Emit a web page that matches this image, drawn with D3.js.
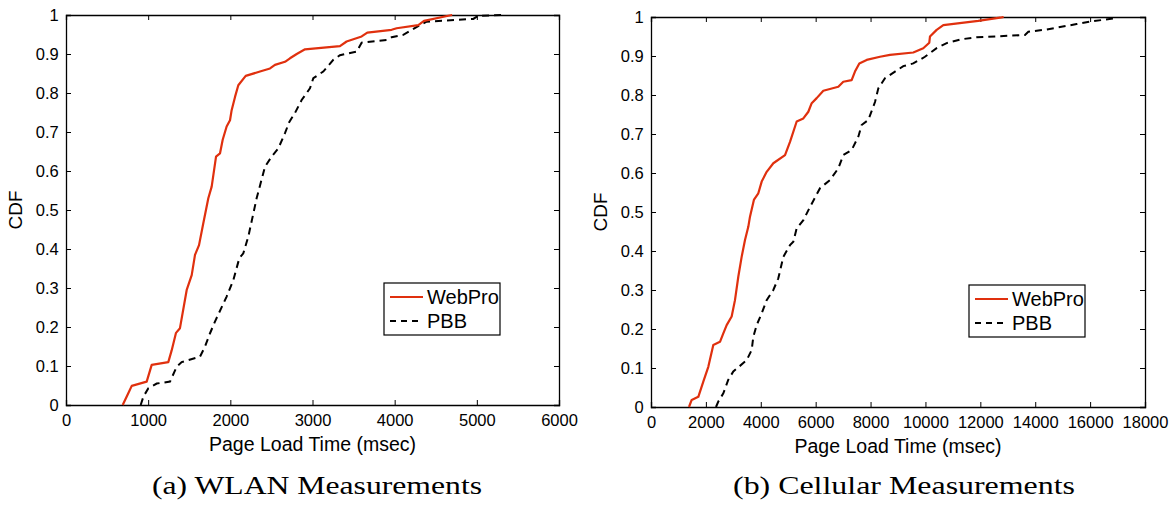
<!DOCTYPE html>
<html>
<head>
<meta charset="utf-8">
<script src="https://cdn.jsdelivr.net/npm/d3@7"></script>
<style>
  body { margin: 0; background: #fff; }
  svg { display: block; }
</style>
</head>
<body>
<svg id="chart" width="1172" height="505"></svg>
<script>
// values (msec, cdf)
const wlanWebProX = [690, 758, 800, 982, 1043, 1245, 1286, 1339, 1387, 1469, 1530, 1570, 1619, 1671, 1732, 1773, 1826, 1874, 1907, 1955, 1996, 2016, 2057, 2097, 2187, 2361, 2483, 2543, 2665, 2726, 2808, 2909, 3334, 3415, 3598, 3667, 3963, 4024, 4288, 4357, 4653, 4700]
const wlanWebProY = [0, 0.03, 0.049, 0.06, 0.103, 0.11, 0.14, 0.185, 0.197, 0.295, 0.333, 0.385, 0.41, 0.466, 0.53, 0.56, 0.637, 0.645, 0.68, 0.714, 0.73, 0.756, 0.79, 0.82, 0.844, 0.855, 0.863, 0.872, 0.88, 0.889, 0.9, 0.912, 0.92, 0.932, 0.945, 0.955, 0.962, 0.966, 0.974, 0.985, 0.998, 1]

const wlanPbbX = [909, 941, 1002, 1104, 1266, 1347, 1408, 1631, 1692, 1753, 1813, 1955, 2036, 2109, 2158, 2219, 2320, 2422, 2503, 2584, 2665, 2718, 2787, 2868, 2969, 3010, 3131, 3253, 3334, 3537, 3598, 3903, 3963, 4105, 4308, 4389, 4957, 5018, 5322]
const wlanPbbY = [0, 0.021, 0.043, 0.055, 0.06, 0.098, 0.11, 0.124, 0.15, 0.184, 0.214, 0.278, 0.32, 0.376, 0.389, 0.432, 0.53, 0.611, 0.637, 0.658, 0.697, 0.726, 0.749, 0.782, 0.812, 0.838, 0.855, 0.885, 0.897, 0.906, 0.929, 0.936, 0.943, 0.949, 0.974, 0.983, 0.99, 0.998, 1]

const cellWebProX = [1385, 1482, 1724, 1906, 2088, 2270, 2514, 2635, 2757, 2939, 3060, 3181, 3303, 3425, 3545, 3607, 3753, 3910, 4033, 4215, 4457, 4883, 5065, 5308, 5551, 5733, 5855, 6037, 6279, 6825, 7007, 7311, 7432, 7590, 7858, 8344, 8708, 9557, 9921, 10140, 10165, 10408, 10651, 11925, 12777, 12850]
const cellWebProY = [0, 0.018, 0.026, 0.065, 0.103, 0.159, 0.167, 0.189, 0.21, 0.232, 0.274, 0.334, 0.385, 0.428, 0.462, 0.488, 0.532, 0.548, 0.578, 0.603, 0.625, 0.646, 0.68, 0.732, 0.74, 0.757, 0.779, 0.792, 0.811, 0.821, 0.834, 0.838, 0.86, 0.881, 0.89, 0.898, 0.903, 0.909, 0.92, 0.934, 0.95, 0.967, 0.979, 0.99, 0.999, 1]

const cellPbbX = [2368, 2453, 2635, 2817, 2999, 3485, 3668, 3728, 3850, 4033, 4215, 4457, 4639, 4821, 5065, 5186, 5308, 5551, 5794, 6158, 6522, 6825, 7007, 7311, 7554, 7675, 7918, 8162, 8283, 8526, 8890, 9193, 9557, 9982, 10408, 10772, 11318, 11865, 13627, 13749, 14417, 15510, 15996, 16907, 17000]
const cellPbbY = [0, 0.014, 0.035, 0.07, 0.091, 0.12, 0.146, 0.18, 0.21, 0.24, 0.274, 0.3, 0.33, 0.385, 0.415, 0.424, 0.458, 0.479, 0.513, 0.561, 0.582, 0.612, 0.646, 0.659, 0.693, 0.723, 0.736, 0.782, 0.817, 0.843, 0.86, 0.874, 0.881, 0.898, 0.92, 0.933, 0.943, 0.948, 0.954, 0.962, 0.968, 0.982, 0.988, 0.997, 1]

const wlanTicks = [0, 1000, 2000, 3000, 4000, 5000, 6000]
const cellTicks = [0, 2000, 4000, 6000, 8000, 10000, 12000, 14000, 16000, 18000]
const cdfTicks = [0, 0.1, 0.2, 0.3, 0.4, 0.5, 0.6, 0.7, 0.8, 0.9, 1]
const seriesNames = ["WebPro", "PBB"]
const captions = ["(a) WLAN Measurements", "(b) Cellular Measurements"]

const red = "#e0300e"
const sans = "'Liberation Sans', Arial, Helvetica, sans-serif"
const serif = "'Liberation Serif', 'DejaVu Serif', serif"

const svg = d3.select("#chart")

function zip(xs, ys){
    return xs.map((x, i) => [x, ys[i]])
}

function drawPanel(p){
    const g = svg.append("g").attr("transform", `translate(${p.left},${p.top})`)
    const w = p.width, h = p.height

    const x = d3.scaleLinear().domain([0, p.xmax]).range([0, w])
    const y = d3.scaleLinear().domain([0, 1]).range([h, 0])

    const fmtY = d => d === 0 ? "0" : d === 1 ? "1" : d3.format(".1f")(d)

    // axes, ticks pointing inward like matlab
    const bottom = g.append("g").attr("transform", `translate(0,${h})`)
        .call(d3.axisBottom(x).tickValues(p.xticks).tickSize(-5).tickPadding(9).tickFormat(d3.format("d")))
    const top = g.append("g")
        .call(d3.axisTop(x).tickValues(p.xticks).tickSize(-5).tickFormat(""))
    const left = g.append("g")
        .call(d3.axisLeft(y).tickValues(cdfTicks).tickSize(-5).tickPadding(9).tickFormat(fmtY))
    const right = g.append("g").attr("transform", `translate(${w},0)`)
        .call(d3.axisRight(y).tickValues(cdfTicks).tickSize(-5).tickFormat(""))

    ;[bottom, top, left, right].forEach(a => {
        a.select(".domain").attr("stroke", "#000").attr("stroke-width", 1.3)
        a.selectAll(".tick line").attr("stroke", "#000").attr("stroke-width", 1)
        a.selectAll("text").attr("font-family", sans).attr("font-size", 16.5).attr("fill", "#000")
    })
    bottom.selectAll(".tick text").attr("dy", "0.75em")
    left.selectAll(".tick text").attr("dx", "0.1em")

    const line = d3.line().x(d => x(d[0])).y(d => y(d[1]))

    g.append("path")
        .datum(zip(p.pbbX, p.pbbY))
        .attr("d", line)
        .attr("fill", "none")
        .attr("stroke", "#000")
        .attr("stroke-width", 2)
        .attr("stroke-dasharray", "7,5")

    g.append("path")
        .datum(zip(p.webX, p.webY))
        .attr("d", line)
        .attr("fill", "none")
        .attr("stroke", red)
        .attr("stroke-width", 2.2)
        .attr("stroke-linejoin", "round")

    // legend
    const lg = g.append("g").attr("transform", "translate(318,268)")
    lg.append("rect").attr("width", 116).attr("height", 52)
        .attr("fill", "#fff").attr("stroke", "#000").attr("stroke-width", 1.2)
    const styles = [{stroke: red, dash: null, sw: 2.2}, {stroke: "#000", dash: "6,5", sw: 2}]
    seriesNames.forEach((name, i) => {
        const yy = 14 + i * 24
        lg.append("line").attr("x1", 6).attr("x2", 39).attr("y1", yy).attr("y2", yy)
            .attr("stroke", styles[i].stroke).attr("stroke-width", styles[i].sw)
            .attr("stroke-dasharray", styles[i].dash)
        lg.append("text").attr("x", 43).attr("y", yy + 7)
            .attr("font-family", sans).attr("font-size", 20).text(name)
    })

    // axis labels
    g.append("text")
        .attr("transform", `translate(${-44},${h / 2}) rotate(-90)`)
        .attr("text-anchor", "middle")
        .attr("font-family", sans).attr("font-size", 19)
        .text("CDF")
    g.append("text")
        .attr("x", w / 2).attr("y", h + 46)
        .attr("text-anchor", "middle")
        .attr("font-family", sans).attr("font-size", 19.5)
        .text("Page Load Time (msec)")

    svg.append("text")
        .attr("x", p.capX).attr("y", 494)
        .attr("text-anchor", "middle")
        .attr("font-family", serif).attr("font-size", 25)
        .attr("textLength", p.capW).attr("lengthAdjust", "spacingAndGlyphs")
        .text(p.caption)
}

drawPanel({left: 66, top: 15, width: 493, height: 390, xmax: 6000, xticks: wlanTicks,
    webX: wlanWebProX, webY: wlanWebProY, pbbX: wlanPbbX, pbbY: wlanPbbY,
    caption: captions[0], capX: 317, capW: 330})

drawPanel({left: 651, top: 17, width: 494, height: 390, xmax: 18000, xticks: cellTicks,
    webX: cellWebProX, webY: cellWebProY, pbbX: cellPbbX, pbbY: cellPbbY,
    caption: captions[1], capX: 904, capW: 342})
</script>
</body>
</html>
